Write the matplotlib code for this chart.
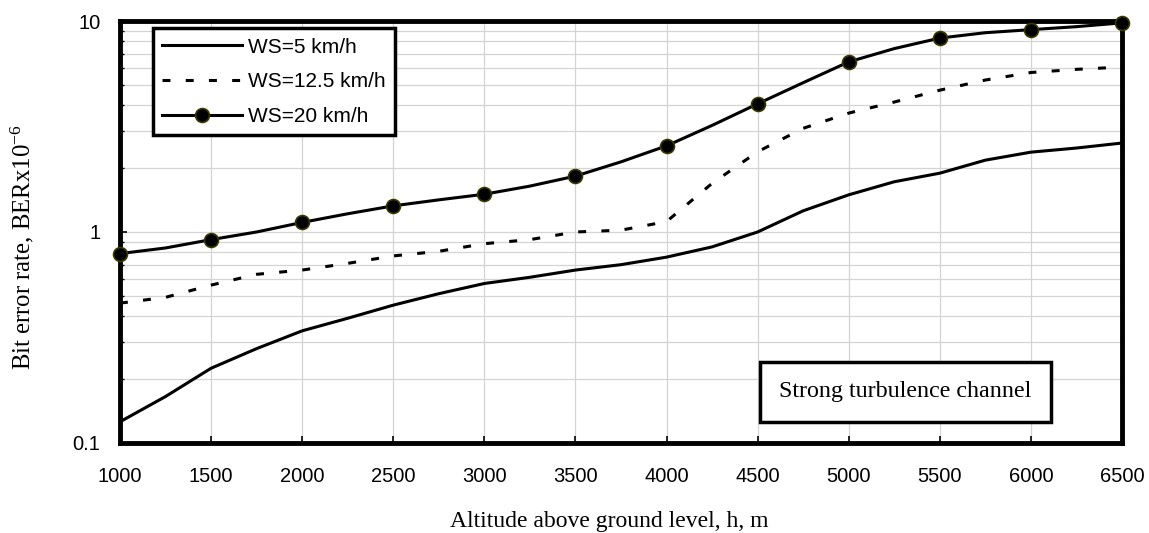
import matplotlib
matplotlib.use("Agg")
import matplotlib.pyplot as plt
from matplotlib.ticker import LogLocator, FixedLocator, NullFormatter

plt.rcParams['font.family'] = ['Liberation Sans', 'DejaVu Sans']
plt.rcParams['mathtext.fontset'] = 'custom'
plt.rcParams['mathtext.rm'] = 'Liberation Serif'
plt.rcParams['mathtext.it'] = 'Liberation Serif:italic'

# altitude (m) and bit error rate (x1e-6)
altitude = [1000, 1250, 1500, 1750, 2000, 2250, 2500, 2750, 3000, 3250, 3500, 3750,
            4000, 4250, 4500, 4750, 5000, 5250, 5500, 5750, 6000, 6250, 6500]
ber_ws5 = [0.126, 0.166, 0.226, 0.28, 0.34, 0.39, 0.45, 0.51, 0.57, 0.61, 0.66, 0.70,
           0.76, 0.85, 1.0, 1.26, 1.5, 1.73, 1.9, 2.19, 2.39, 2.5, 2.64]
ber_ws12 = [0.46, 0.49, 0.56, 0.63, 0.66, 0.71, 0.77, 0.81, 0.88, 0.92, 1.0, 1.02,
            1.12, 1.7, 2.4, 3.1, 3.66, 4.13, 4.7, 5.25, 5.7, 5.9, 6.05]
ber_ws20 = [0.79, 0.84, 0.92, 1.0, 1.11, 1.22, 1.33, 1.42, 1.51, 1.65, 1.84, 2.15,
            2.56, 3.2, 4.05, 5.1, 6.4, 7.4, 8.3, 8.8, 9.1, 9.4, 9.8]
labels = ["WS=5 km/h", "WS=12.5 km/h", "WS=20 km/h"]
x_ticks = [1000, 1500, 2000, 2500, 3000, 3500, 4000, 4500, 5000, 5500, 6000, 6500]
y_ticks = [0.1, 1, 10]
y_tick_labels = ["0.1", "1", "10"]


def main():
    fig = plt.figure(figsize=(11.49, 5.33), dpi=100)
    ax = fig.add_axes([0.1044, 0.1689, 0.8721, 0.7917])

    ax.plot(altitude, ber_ws5, color='black', lw=2.2, label=labels[0])
    ax.plot(altitude, ber_ws12, color='black', lw=2.2, dashes=(2.6, 5.0), label=labels[1])
    ax.plot(altitude, ber_ws20, color='black', lw=2.2, marker='o', markersize=10,
            markerfacecolor='black', markeredgecolor='#3a3a00', markeredgewidth=1.2,
            markevery=2, label=labels[2], clip_on=False, zorder=5)

    ax.set_yscale('log')
    ax.set_xlim(1000, 6500)
    ax.set_ylim(0.1, 10)
    ax.xaxis.set_major_locator(FixedLocator(x_ticks))
    ax.yaxis.set_major_locator(FixedLocator(y_ticks))
    ax.set_yticklabels(y_tick_labels)
    ax.yaxis.set_minor_locator(LogLocator(base=10, subs=range(2, 10)))
    ax.yaxis.set_minor_formatter(NullFormatter())

    ax.grid(True, which='major', color='#d4d4d4', lw=0.9)
    ax.grid(True, which='minor', axis='y', color='#d4d4d4', lw=0.9)
    ax.set_axisbelow(True)

    for sp in ax.spines.values():
        sp.set_linewidth(3.5)
    ax.tick_params(which='major', direction='in', length=5, width=1.2, labelsize=14.5)
    ax.tick_params(which='minor', direction='in', length=3, width=1.0)
    ax.tick_params(axis='x', which='major', pad=17)
    ax.tick_params(axis='y', which='major', pad=14)

    ax.set_xlabel("Altitude above ground level, h, m", family='Liberation Serif',
                  fontsize=17)
    ax.xaxis.set_label_coords(0.488, -0.162)
    ax.set_ylabel("Bit error rate, BERx10$^{-6}$", family='Liberation Serif',
                  fontsize=17.8)
    ax.yaxis.set_label_coords(-0.084, 0.464)

    leg = ax.legend(loc='upper left', bbox_to_anchor=(0.033, 0.983), fontsize=15,
                    frameon=True, fancybox=False, edgecolor='black', framealpha=1,
                    handlelength=3.8, handletextpad=0.3, labelspacing=0.75,
                    borderpad=0.45, borderaxespad=0)
    leg.get_frame().set_linewidth(2.5)

    ax.text(0.784, 0.121, "Strong turbulence channel", transform=ax.transAxes,
            family='Liberation Serif', fontsize=17.3, ha='center', va='center',
            bbox=dict(boxstyle='square,pad=0.8', fc='white', ec='black', lw=2.5))

    fig.savefig("out.png", dpi=100)


if __name__ == "__main__":
    main()
